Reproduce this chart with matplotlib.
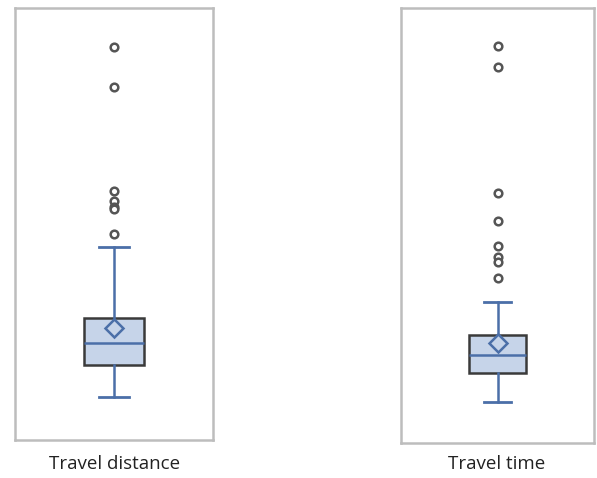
import matplotlib
matplotlib.use("Agg")
import matplotlib.pyplot as plt

plt.rcParams['font.family'] = ['Open Sans', 'DejaVu Sans']

# Data (arbitrary units)
labels = ["Travel distance", "Travel time"]
whislo = [4.3, 4.1]
q1 = [7.5, 7.0]
med = [9.7, 8.8]
mean = [11.2, 10.0]
q3 = [12.2, 10.8]
whishi = [19.3, 14.1]
fliers = [
    [39.3, 35.3, 24.9, 23.9, 23.3, 23.1, 20.6],
    [39.7, 37.6, 25.0, 22.2, 19.7, 18.6, 18.1, 16.5],
]
ylims = [(0, 43.2), (0, 43.5)]

fig = plt.figure(figsize=(5.97, 4.78), dpi=100)
W, H = 597, 478
rects = [(15, 8, 213, 440), (401, 8, 594, 443)]
label_x = [115, 497]
widths = [0.303, 0.295]
capw = [0.15, 0.14]

blue = "#4b6fa8"
fill = "#c6d4e9"
edge = "#3a3a3a"

for i in range(2):
    x0, y0, x1, y1 = rects[i]
    ax = fig.add_axes([x0 / W, 1 - y1 / H, (x1 - x0) / W, (y1 - y0) / H])
    stats = [dict(whislo=whislo[i], q1=q1[i], med=med[i], mean=mean[i],
                  q3=q3[i], whishi=whishi[i], fliers=fliers[i], label="")]
    ax.bxp(stats, positions=[1], widths=widths[i], capwidths=capw[i],
           showmeans=True, patch_artist=True,
           boxprops=dict(facecolor=fill, edgecolor=edge, linewidth=1.8),
           medianprops=dict(color=blue, linewidth=1.8),
           whiskerprops=dict(color=blue, linewidth=1.8),
           capprops=dict(color=blue, linewidth=2.0),
           meanprops=dict(marker="D", markersize=9, markerfacecolor=fill,
                          markeredgecolor=blue, markeredgewidth=1.8),
           flierprops=dict(marker="o", markersize=5.5, markerfacecolor="white",
                           markeredgecolor="#555555", markeredgewidth=1.8))
    ax.set_xlim(0.5, 1.5)
    ax.set_ylim(*ylims[i])
    ax.set_xticks([])
    ax.set_yticks([])
    for s in ax.spines.values():
        s.set_color("#bdbdbd")
        s.set_linewidth(1.8)
    fig.text(label_x[i] / W, 1 - 464 / H, labels[i], fontsize=13.5,
             color="#222222", ha="center", va="center")

fig.savefig("out.png", dpi=100)
